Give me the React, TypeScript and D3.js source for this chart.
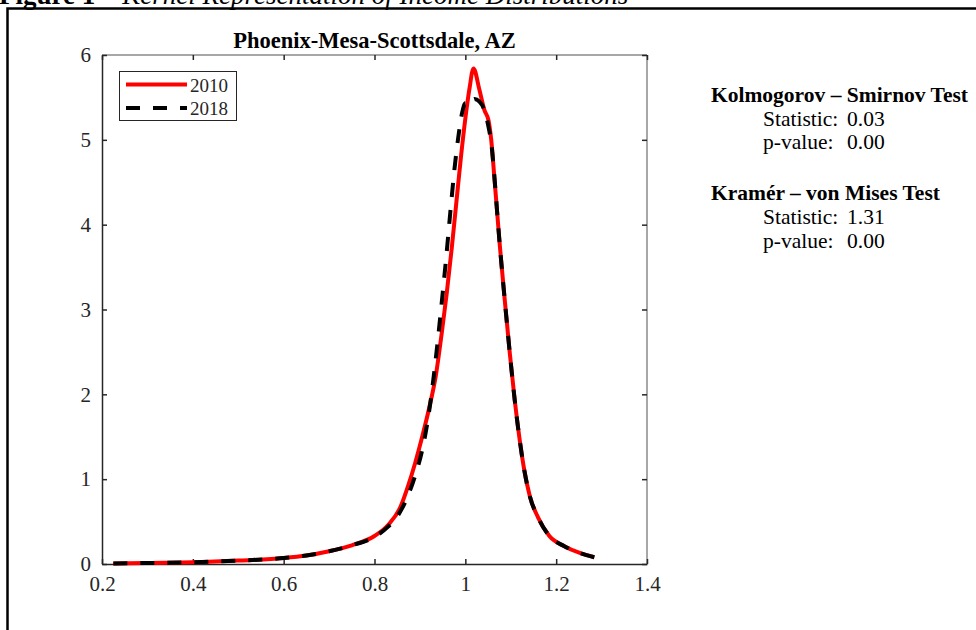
import { useEffect, useRef } from "react";
import * as d3 from "d3";

// tick values
const xTicks = [0.2, 0.4, 0.6, 0.8, 1, 1.2, 1.4];
const yTicks = [0, 1, 2, 3, 4, 5, 6];

// kernel density, 2010
const x2010 = [0.225, 0.3, 0.4, 0.5, 0.6, 0.65, 0.7, 0.75, 0.8, 0.83, 0.857, 0.874, 0.89, 0.905, 0.92, 0.935, 0.948, 0.959, 0.97, 0.98, 0.99, 1.0, 1.009, 1.018, 1.031, 1.042, 1.051, 1.057, 1.064, 1.07, 1.076, 1.087, 1.098, 1.109, 1.12, 1.13, 1.142, 1.16, 1.185, 1.218, 1.252, 1.284];
const y2010 = [0.005, 0.012, 0.02, 0.04, 0.07, 0.1, 0.15, 0.22, 0.33, 0.46, 0.67, 0.92, 1.2, 1.5, 1.83, 2.22, 2.72, 3.19, 3.72, 4.25, 4.78, 5.25, 5.6, 5.84, 5.59, 5.35, 5.23, 5.0, 4.55, 4.15, 3.75, 3.1, 2.48, 1.92, 1.45, 1.1, 0.8, 0.55, 0.33, 0.21, 0.13, 0.08];

// kernel density, 2018
const x2018 = [0.225, 0.3, 0.4, 0.5, 0.6, 0.65, 0.7, 0.75, 0.8, 0.83, 0.85, 0.87, 0.89, 0.904, 0.915, 0.926, 0.937, 0.948, 0.958, 0.967, 0.976, 0.985, 0.993, 1.0, 1.008, 1.02, 1.031, 1.042, 1.05, 1.058, 1.065, 1.07, 1.076, 1.087, 1.098, 1.109, 1.12, 1.13, 1.142, 1.16, 1.185, 1.218, 1.252, 1.284];
const y2018 = [0.005, 0.012, 0.02, 0.04, 0.07, 0.1, 0.15, 0.22, 0.32, 0.44, 0.56, 0.76, 1.05, 1.32, 1.62, 2.02, 2.52, 3.08, 3.62, 4.15, 4.65, 5.05, 5.32, 5.43, 5.4, 5.48, 5.45, 5.35, 5.18, 4.92, 4.5, 4.15, 3.75, 3.1, 2.48, 1.92, 1.45, 1.1, 0.8, 0.55, 0.33, 0.21, 0.13, 0.08];

const seriesNames = ["2010", "2018"];
const seriesColors = ["#ff0000", "#000000"];

const title = "Phoenix-Mesa-Scottsdale, AZ";
const testNames = ["Kolmogorov \u2013 Smirnov Test", "Kram\u00e9r \u2013 von Mises Test"];
const testStats = ["0.03", "1.31"];
const testPvals = ["0.00", "0.00"];

const FONT = "'Liberation Serif', 'Times New Roman', serif";

function App() {
  const ref = useRef<SVGSVGElement>(null);

  useEffect(() => {
    const svg = d3.select(ref.current);
    svg.selectAll("*").remove();

    const margin = { top: 55, left: 102, right: 647, bottom: 564 };

    // figure caption, cut off at the top
    const cap = svg.append("text")
      .attr("x", -1)
      .attr("y", 3.5)
      .style("font-family", FONT)
      .style("font-size", "27px");
    cap.append("tspan").attr("font-weight", "bold").text("Figure 1 \u2013 ");
    cap.append("tspan").attr("font-style", "italic").text("Kernel Representation of Income Distributions");

    // frame around the figure
    svg.append("rect")
      .attr("x", 7.5)
      .attr("y", 8.5)
      .attr("width", 1000)
      .attr("height", 700)
      .attr("fill", "none")
      .attr("stroke", "#000")
      .attr("stroke-width", 2.5);

    var x = d3.scaleLinear().domain([0.2, 1.4]).range([margin.left, margin.right]);
    var y = d3.scaleLinear().domain([0, 6]).range([margin.bottom, margin.top]);

    // box: top and right lighter
    svg.append("line")
      .attr("x1", margin.left).attr("x2", margin.right)
      .attr("y1", margin.top).attr("y2", margin.top)
      .attr("stroke", "#8a8a8a").attr("stroke-width", 1.5);
    svg.append("line")
      .attr("x1", margin.right).attr("x2", margin.right)
      .attr("y1", margin.top).attr("y2", margin.bottom)
      .attr("stroke", "#8a8a8a").attr("stroke-width", 1.5);

    const tickLen = 5;
    const axisColor = "#262626";

    // bottom axis
    const bottom = svg.append("g")
      .attr("transform", `translate(0,${margin.bottom})`)
      .call(d3.axisBottom(x).tickValues(xTicks).tickSize(-tickLen).tickSizeOuter(0).tickPadding(12).tickFormat(d3.format("")));
    // top ticks
    const top = svg.append("g")
      .attr("transform", `translate(0,${margin.top})`)
      .call(d3.axisTop(x).tickValues(xTicks).tickSize(-tickLen).tickSizeOuter(0).tickFormat(() => ""));
    top.select(".domain").remove();
    // left axis
    const left = svg.append("g")
      .attr("transform", `translate(${margin.left},0)`)
      .call(d3.axisLeft(y).tickValues(yTicks).tickSize(-tickLen).tickSizeOuter(0).tickPadding(11).tickFormat(d3.format("d")));
    // right ticks
    const right = svg.append("g")
      .attr("transform", `translate(${margin.right},0)`)
      .call(d3.axisRight(y).tickValues(yTicks).tickSize(-tickLen).tickSizeOuter(0).tickFormat(() => ""));
    right.select(".domain").remove();

    [bottom, top, left, right].forEach((g) => {
      g.selectAll(".domain").attr("stroke", axisColor).attr("stroke-width", 1.5);
      g.selectAll(".tick line").attr("stroke", axisColor).attr("stroke-width", 1.5);
      g.selectAll("text")
        .attr("fill", axisColor)
        .style("font-family", FONT)
        .style("font-size", "21px");
    });

    // title
    svg.append("text")
      .attr("x", (margin.left + margin.right) / 2)
      .attr("y", 48)
      .attr("text-anchor", "middle")
      .style("font-family", FONT)
      .style("font-weight", "bold")
      .style("font-size", "22.5px")
      .text(title);

    // curves
    const line = d3.line<[number, number]>()
      .x((d) => x(d[0]))
      .y((d) => y(d[1]))
      .curve(d3.curveMonotoneX);

    const d2010 = x2010.map((v, i) => [v, y2010[i]] as [number, number]);
    const d2018 = x2018.map((v, i) => [v, y2018[i]] as [number, number]);

    svg.append("path")
      .datum(d2010)
      .attr("fill", "none")
      .attr("stroke", seriesColors[0])
      .attr("stroke-width", 4)
      .attr("stroke-linejoin", "round")
      .attr("d", line);
    svg.append("path")
      .datum(d2018)
      .attr("fill", "none")
      .attr("stroke", seriesColors[1])
      .attr("stroke-width", 4)
      .attr("stroke-dasharray", "14,13")
      .attr("d", line);

    // legend
    const lg = svg.append("g");
    lg.append("rect")
      .attr("x", 119.5).attr("y", 71.5)
      .attr("width", 117).attr("height", 49)
      .attr("fill", "#fff")
      .attr("stroke", axisColor)
      .attr("stroke-width", 1);
    seriesNames.forEach((name, i) => {
      const ly = 84.5 + i * 23.5;
      lg.append("line")
        .attr("x1", 126).attr("x2", 187)
        .attr("y1", ly).attr("y2", ly)
        .attr("stroke", seriesColors[i])
        .attr("stroke-width", 4)
        .attr("stroke-dasharray", i === 1 ? "14,13" : null);
      lg.append("text")
        .attr("x", 190)
        .attr("y", ly + 7)
        .style("font-family", FONT)
        .style("font-size", "19px")
        .attr("fill", axisColor)
        .text(name);
    });

    // test results on the right
    testNames.forEach((name, i) => {
      const by = 101.5 + i * 98.5;
      svg.append("text")
        .attr("x", 711).attr("y", by)
        .style("font-family", FONT)
        .style("font-weight", "bold")
        .style("font-size", "21.5px")
        .text(name);
      const rows = [["Statistic:", testStats[i]], ["p-value:", testPvals[i]]];
      rows.forEach((r, j) => {
        const ry = by + 24 + j * 23.5;
        svg.append("text")
          .attr("x", 763).attr("y", ry)
          .style("font-family", FONT)
          .style("font-size", "21.5px")
          .text(r[0]);
        svg.append("text")
          .attr("x", 847).attr("y", ry)
          .style("font-family", FONT)
          .style("font-size", "21.5px")
          .text(r[1]);
      });
    });
  }, []);

  return (
    <svg
      ref={ref}
      width={976}
      height={630}
      style={{ position: "absolute", left: 0, top: 0, background: "#fff" }}
    ></svg>
  );
}

export default App;
